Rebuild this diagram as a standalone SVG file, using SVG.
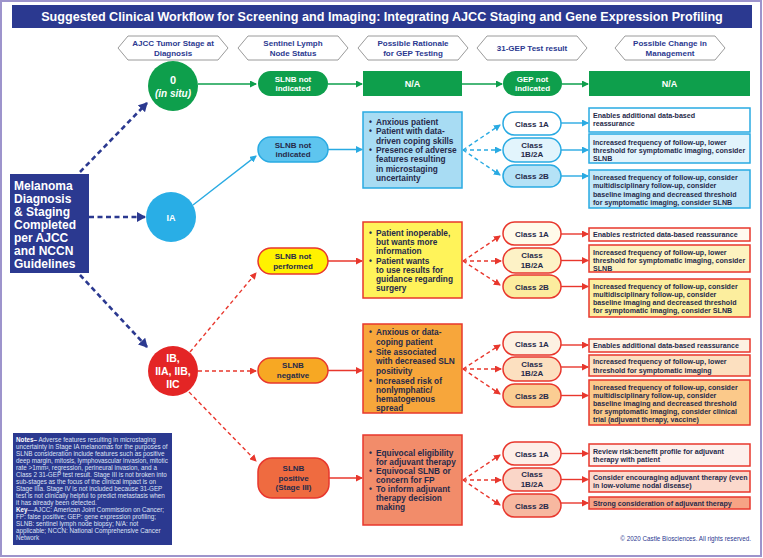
<svg xmlns="http://www.w3.org/2000/svg" width="763" height="558" viewBox="0 0 763 558">
<defs>
<style>
text{font-family:"Liberation Sans",Arial,sans-serif;font-weight:bold;}
.nb text{font-weight:normal;}
.nb tspan.b{font-weight:bold;fill:#fff;}
.hdr{fill:#fff;stroke:#9a9a9a;stroke-width:1;}
.ht{font-size:8px;fill:#2b3990;text-anchor:middle;}
.wt{fill:#fff;text-anchor:middle;}
.rt{font-size:8.3px;fill:#262a4a;}
.mt{font-size:7.1px;fill:#262a4a;}
.ct{font-size:8px;fill:#262a4a;text-anchor:middle;}
.g{fill:#0e9f4c;}
.bs{stroke:#29aae2;stroke-width:1.5;}
.rs{stroke:#e8372d;stroke-width:1.5;}
.ln-n{stroke:#2b3990;stroke-width:2.6;stroke-dasharray:5 3.5;fill:none;}
.ln-g{stroke:#0e9f4c;stroke-width:1.5;fill:none;}
.ln-b{stroke:#29aae2;stroke-width:1.4;fill:none;}
.ln-r{stroke:#e8372d;stroke-width:1.4;fill:none;}
.dash{stroke-dasharray:4 3;}
</style>
<marker id="an" markerUnits="userSpaceOnUse" markerWidth="10" markerHeight="10" refX="8" refY="5" orient="auto"><path d="M0,0 L9,5 L0,10 z" fill="#2b3990"/></marker>
<marker id="ag" markerUnits="userSpaceOnUse" markerWidth="7" markerHeight="7" refX="6" refY="3.5" orient="auto"><path d="M0,0 L7,3.5 L0,7 z" fill="#0e9f4c"/></marker>
<marker id="ab" markerUnits="userSpaceOnUse" markerWidth="7" markerHeight="7" refX="6" refY="3.5" orient="auto"><path d="M0,0 L7,3.5 L0,7 z" fill="#29aae2"/></marker>
<marker id="ar" markerUnits="userSpaceOnUse" markerWidth="7" markerHeight="7" refX="6" refY="3.5" orient="auto"><path d="M0,0 L7,3.5 L0,7 z" fill="#e8372d"/></marker>
</defs>
<rect x="0" y="0" width="763" height="558" fill="#fff"/>
<rect x="1" y="1" width="760" height="555" fill="none" stroke="#9d94cc" stroke-width="2"/>
<g id="title">
<rect x="12" y="5" width="740" height="23" fill="#2b3990"/>
<text x="382" y="21" font-size="12.6px" class="wt">Suggested Clinical Workflow for Screening and Imaging: Integrating AJCC Staging and Gene Expression Profiling</text>
</g>
<g id="headers">
<polygon class="hdr" points="118,48 128,36 218,36 228,48 218,60 128,60"/>
<text class="ht" x="173" y="46">AJCC Tumor Stage at</text><text class="ht" x="173" y="55.5">Diagnosis</text>
<polygon class="hdr" points="238,48 248,36 338,36 348,48 338,60 248,60"/>
<text class="ht" x="293" y="46">Sentinel Lymph</text><text class="ht" x="293" y="55.5">Node Status</text>
<polygon class="hdr" points="358,48 368,36 458,36 468,48 458,60 368,60"/>
<text class="ht" x="413" y="46">Possible Rationale</text><text class="ht" x="413" y="55.5">for GEP Testing</text>
<polygon class="hdr" points="477,48 487,36 577,36 587,48 577,60 487,60"/>
<text class="ht" x="532" y="51">31-GEP Test result</text>
<polygon class="hdr" points="615,48 625,36 715,36 725,48 715,60 625,60"/>
<text class="ht" x="670" y="46">Possible Change in</text><text class="ht" x="670" y="55.5">Management</text>
</g>
<g id="connectors">
<line class="ln-n" x1="80" y1="172" x2="147" y2="103" marker-end="url(#an)"/>
<line class="ln-n" x1="89" y1="217" x2="145" y2="217" marker-end="url(#an)"/>
<line class="ln-n" x1="80" y1="275" x2="147" y2="347" marker-end="url(#an)"/>
<line class="ln-g" x1="198" y1="84" x2="256" y2="84" marker-end="url(#ag)"/>
<line class="ln-g" x1="328" y1="84" x2="362" y2="84" marker-end="url(#ag)"/>
<line class="ln-g" x1="462" y1="84" x2="502" y2="84" marker-end="url(#ag)"/>
<line class="ln-g" x1="562" y1="84" x2="588" y2="84" marker-end="url(#ag)"/>
<line class="ln-b" x1="193" y1="205" x2="256" y2="156" marker-end="url(#ab)"/>
<line class="ln-b" x1="328" y1="149.5" x2="362" y2="149.5" marker-end="url(#ab)"/>
<line class="ln-b dash" x1="463" y1="150" x2="500" y2="125" marker-end="url(#ab)"/>
<line class="ln-b dash" x1="463" y1="150" x2="501" y2="150" marker-end="url(#ab)"/>
<line class="ln-b dash" x1="463" y1="150" x2="500" y2="175" marker-end="url(#ab)"/>
<line class="ln-b" x1="561" y1="123" x2="588" y2="123" marker-end="url(#ab)"/>
<line class="ln-b" x1="561" y1="150" x2="588" y2="150" marker-end="url(#ab)"/>
<line class="ln-b" x1="561" y1="176" x2="588" y2="176" marker-end="url(#ab)"/>
<line class="ln-r dash" x1="190" y1="352" x2="256" y2="273" marker-end="url(#ar)"/>
<line class="ln-r dash" x1="198" y1="371" x2="256" y2="371" marker-end="url(#ar)"/>
<line class="ln-r dash" x1="189" y1="392" x2="256" y2="461" marker-end="url(#ar)"/>
<line class="ln-r" x1="328" y1="261" x2="362" y2="261" marker-end="url(#ar)"/>
<line class="ln-r dash" x1="463" y1="261" x2="500" y2="236" marker-end="url(#ar)"/>
<line class="ln-r dash" x1="463" y1="261" x2="501" y2="261" marker-end="url(#ar)"/>
<line class="ln-r dash" x1="463" y1="261" x2="500" y2="285" marker-end="url(#ar)"/>
<line class="ln-r" x1="561" y1="234" x2="588" y2="234" marker-end="url(#ar)"/>
<line class="ln-r" x1="561" y1="260.5" x2="588" y2="260.5" marker-end="url(#ar)"/>
<line class="ln-r" x1="561" y1="286.5" x2="588" y2="286.5" marker-end="url(#ar)"/>
<line class="ln-r" x1="328" y1="370.5" x2="362" y2="370.5" marker-end="url(#ar)"/>
<line class="ln-r dash" x1="463" y1="369" x2="500" y2="345" marker-end="url(#ar)"/>
<line class="ln-r dash" x1="463" y1="369" x2="501" y2="369" marker-end="url(#ar)"/>
<line class="ln-r dash" x1="463" y1="369" x2="500" y2="394" marker-end="url(#ar)"/>
<line class="ln-r" x1="561" y1="345" x2="588" y2="345" marker-end="url(#ar)"/>
<line class="ln-r" x1="561" y1="367" x2="588" y2="367" marker-end="url(#ar)"/>
<line class="ln-r" x1="561" y1="395.5" x2="588" y2="395.5" marker-end="url(#ar)"/>
<line class="ln-r" x1="329" y1="478" x2="362" y2="478" marker-end="url(#ar)"/>
<line class="ln-r dash" x1="463" y1="480" x2="500" y2="455" marker-end="url(#ar)"/>
<line class="ln-r dash" x1="463" y1="480" x2="501" y2="480" marker-end="url(#ar)"/>
<line class="ln-r dash" x1="463" y1="480" x2="500" y2="505" marker-end="url(#ar)"/>
<line class="ln-r" x1="561" y1="453.5" x2="588" y2="453.5" marker-end="url(#ar)"/>
<line class="ln-r" x1="561" y1="479.5" x2="588" y2="479.5" marker-end="url(#ar)"/>
<line class="ln-r" x1="561" y1="503" x2="588" y2="503" marker-end="url(#ar)"/>
</g>
<g id="melanoma">
<rect x="10" y="174" width="79" height="99" fill="#2b3990"/>
<g font-size="12px" fill="#fff">
<text x="14" y="190">Melanoma</text><text x="14" y="203">Diagnosis</text><text x="14" y="216">&amp; Staging</text><text x="14" y="229">Completed</text><text x="14" y="242">per AJCC</text><text x="14" y="255">and NCCN</text><text x="14" y="268">Guidelines</text>
</g>
</g>
<g id="stage0">
<circle cx="173" cy="86" r="25" class="g"/>
<text class="wt" x="173" y="84" font-size="11px">0</text>
<text class="wt" x="173" y="97" font-size="10px" font-style="italic">(in situ)</text>
</g>
<g id="slnb0">
<rect x="258" y="71" width="70" height="25" rx="12.5" class="g"/>
<text class="wt" x="293" y="81.5" font-size="8px">SLNB not</text><text class="wt" x="293" y="91" font-size="8px">indicated</text>
</g>
<g id="na0">
<rect x="363" y="71" width="99" height="25" class="g"/>
<text class="wt" x="412.5" y="87" font-size="9px">N/A</text>
</g>
<g id="gep0">
<rect x="503" y="71" width="59" height="25" rx="12.5" class="g"/>
<text class="wt" x="532.5" y="81.5" font-size="8px">GEP not</text><text class="wt" x="532.5" y="91" font-size="8px">indicated</text>
</g>
<g id="mgmt0">
<rect x="589" y="71" width="161" height="25" class="g"/>
<text class="wt" x="669.5" y="87" font-size="9px">N/A</text>
</g>
<g id="stageIA">
<circle cx="171" cy="217" r="25" fill="#29aee6"/>
<text class="wt" x="171" y="220.5" font-size="9px">IA</text>
</g>
<g id="slnbIA">
<rect x="258" y="137" width="70" height="25" rx="12.5" fill="#5ec5ef" class="bs"/>
<text class="ct" x="293" y="147.5">SLNB not</text><text class="ct" x="293" y="157">indicated</text>
</g>
<g id="ratIA">
<rect x="363" y="112" width="99" height="76" fill="#a8dcf3" class="bs"/>
<g class="rt">
<text x="369" y="125">•</text><text x="376" y="125">Anxious patient</text>
<text x="369" y="134.3">•</text><text x="376" y="134.3">Patient with data-</text>
<text x="376" y="143.6">driven coping skills</text>
<text x="369" y="152.9">•</text><text x="376" y="152.9">Presence of adverse</text>
<text x="376" y="162.2">features resulting</text>
<text x="376" y="171.5">in microstaging</text>
<text x="376" y="180.8">uncertainty</text>
</g>
</g>
<g id="clsIA">
<rect x="503" y="112" width="58" height="23" rx="11.5" fill="#fff" class="bs"/>
<text class="ct" x="532" y="126.5">Class 1A</text>
<rect x="503" y="138" width="58" height="24" rx="12" fill="#e2f4fc" class="bs"/>
<text class="ct" x="532" y="147.5">Class</text><text class="ct" x="532" y="157">1B/2A</text>
<rect x="503" y="165" width="58" height="22" rx="11" fill="#b5e2f6" class="bs"/>
<text class="ct" x="532" y="179">Class 2B</text>
</g>
<g id="mgmtIA">
<rect x="589" y="108" width="161" height="24" fill="#fff" class="bs"/>
<text class="mt" x="593" y="117.5">Enables additional data-based</text><text class="mt" x="593" y="126">reassurance</text>
<rect x="589" y="134" width="161" height="29" fill="#e2f4fc" class="bs"/>
<text class="mt" x="593" y="144.5">Increased frequency of follow-up, lower</text><text class="mt" x="593" y="152.5">threshold for symptomatic imaging, consider</text><text class="mt" x="593" y="160.5">SLNB</text>
<rect x="589" y="170" width="161" height="38" fill="#c2e7f8" class="bs"/>
<text class="mt" x="593" y="180">Increased frequency of follow-up, consider</text><text class="mt" x="593" y="188.3">multidisciplinary follow-up, consider</text><text class="mt" x="593" y="196.6">baseline imaging and decreased threshold</text><text class="mt" x="593" y="204.9">for symptomatic imaging, consider SLNB</text>
</g>
<g id="stageIB">
<circle cx="173" cy="371" r="25" fill="#e42525"/>
<text class="wt" x="173" y="362" font-size="10.5px">IB,</text><text class="wt" x="173" y="375" font-size="10.5px">IIA, IIB,</text><text class="wt" x="173" y="388" font-size="10.5px">IIC</text>
</g>
<g id="slnbNP">
<rect x="258" y="248" width="70" height="26" rx="13" fill="#fff200" class="rs"/>
<text class="ct" x="293" y="258.5">SLNB not</text><text class="ct" x="293" y="268.5">performed</text>
</g>
<g id="ratNP">
<rect x="363" y="222" width="99" height="76" fill="#fff35a" class="rs"/>
<g class="rt">
<text x="369" y="236">•</text><text x="376" y="236">Patient inoperable,</text>
<text x="376" y="245">but wants more</text>
<text x="376" y="254">information</text>
<text x="369" y="264">•</text><text x="376" y="264">Patient wants</text>
<text x="376" y="273">to use results for</text>
<text x="376" y="282">guidance regarding</text>
<text x="376" y="291">surgery</text>
</g>
</g>
<g id="clsNP">
<rect x="503" y="222" width="58" height="23" rx="11.5" fill="#fffaea" class="rs"/>
<text class="ct" x="532" y="236.5">Class 1A</text>
<rect x="503" y="248" width="58" height="25" rx="12.5" fill="#fdf2c6" class="rs"/>
<text class="ct" x="532" y="258">Class</text><text class="ct" x="532" y="268">1B/2A</text>
<rect x="503" y="275" width="58" height="23" rx="11.5" fill="#fcec9e" class="rs"/>
<text class="ct" x="532" y="289.5">Class 2B</text>
</g>
<g id="mgmtNP">
<rect x="589" y="228" width="161" height="13" fill="#fffaf0" class="rs"/>
<text class="mt" x="593" y="237">Enables restricted data-based reassurance</text>
<rect x="589" y="245" width="161" height="27" fill="#fdf2c0" class="rs"/>
<text class="mt" x="593" y="254.5">Increased frequency of follow-up, lower</text><text class="mt" x="593" y="262.5">threshold for symptomatic imaging, consider</text><text class="mt" x="593" y="270.5">SLNB</text>
<rect x="589" y="279" width="161" height="38" fill="#fcee9e" class="rs"/>
<text class="mt" x="593" y="288.5">Increased frequency of follow-up, consider</text><text class="mt" x="593" y="296.8">multidisciplinary follow-up, consider</text><text class="mt" x="593" y="305.1">baseline imaging and decreased threshold</text><text class="mt" x="593" y="313.4">for symptomatic imaging, consider SLNB</text>
</g>
<g id="slnbNeg">
<rect x="258" y="358" width="70" height="25" rx="12.5" fill="#f7a823" class="rs"/>
<text class="ct" x="293" y="368">SLNB</text><text class="ct" x="293" y="378">negative</text>
</g>
<g id="ratNeg">
<rect x="363" y="324" width="99" height="89" fill="#f7a63b" class="rs"/>
<g class="rt">
<text x="369" y="335">•</text><text x="376" y="335">Anxious or data-</text>
<text x="376" y="345">coping patient</text>
<text x="369" y="355">•</text><text x="376" y="355">Site associated</text>
<text x="376" y="364">with decreased SLN</text>
<text x="376" y="374">positivity</text>
<text x="369" y="384">•</text><text x="376" y="384">Increased risk of</text>
<text x="376" y="393">nonlymphatic/</text>
<text x="376" y="402">hematogenous</text>
<text x="376" y="411">spread</text>
</g>
</g>
<g id="clsNeg">
<rect x="503" y="332" width="58" height="23" rx="11.5" fill="#fdf1e2" class="rs"/>
<text class="ct" x="532" y="346.5">Class 1A</text>
<rect x="503" y="357" width="58" height="24" rx="12" fill="#fce0c0" class="rs"/>
<text class="ct" x="532" y="366.5">Class</text><text class="ct" x="532" y="376">1B/2A</text>
<rect x="503" y="384" width="58" height="23" rx="11.5" fill="#fbcd93" class="rs"/>
<text class="ct" x="532" y="398.5">Class 2B</text>
</g>
<g id="mgmtNeg">
<rect x="589" y="339" width="161" height="13" fill="#fdf1e2" class="rs"/>
<text class="mt" x="593" y="348">Enables additional data-based reassurance</text>
<rect x="589" y="355" width="161" height="21" fill="#fce0c0" class="rs"/>
<text class="mt" x="593" y="364">Increased frequency of follow-up, lower</text><text class="mt" x="593" y="372.5">threshold for symptomatic imaging</text>
<rect x="589" y="380" width="161" height="45" fill="#fbc98a" class="rs"/>
<text class="mt" x="593" y="389.5">Increased frequency of follow-up, consider</text><text class="mt" x="593" y="397.6">multidisciplinary follow-up, consider</text><text class="mt" x="593" y="405.7">baseline imaging and decreased threshold</text><text class="mt" x="593" y="413.8">for symptomatic imaging, consider clinical</text><text class="mt" x="593" y="421.9">trial (adjuvant therapy, vaccine)</text>
</g>
<g id="slnbPos">
<rect x="258" y="458" width="71" height="40" rx="14" fill="#ef6b40" class="rs"/>
<text class="ct" x="293.5" y="471">SLNB</text><text class="ct" x="293.5" y="480.5">positive</text><text class="ct" x="293.5" y="490">(Stage III)</text>
</g>
<g id="ratPos">
<rect x="363" y="435" width="99" height="90" fill="#f28c6a" class="rs"/>
<g class="rt">
<text x="369" y="456">•</text><text x="376" y="456">Equivocal eligibility</text>
<text x="376" y="465">for adjuvant therapy</text>
<text x="369" y="474">•</text><text x="376" y="474">Equivocal SLNB or</text>
<text x="376" y="483">concern for FP</text>
<text x="369" y="492">•</text><text x="376" y="492">To inform adjuvant</text>
<text x="376" y="501">therapy decision</text>
<text x="376" y="510">making</text>
</g>
</g>
<g id="clsPos">
<rect x="503" y="442" width="58" height="23" rx="11.5" fill="#fdeee8" class="rs"/>
<text class="ct" x="532" y="456.5">Class 1A</text>
<rect x="503" y="468" width="58" height="23" rx="11.5" fill="#fad6c8" class="rs"/>
<text class="ct" x="532" y="477">Class</text><text class="ct" x="532" y="486.5">1B/2A</text>
<rect x="503" y="494" width="58" height="23" rx="11.5" fill="#f7b8a0" class="rs"/>
<text class="ct" x="532" y="508.5">Class 2B</text>
</g>
<g id="mgmtPos">
<rect x="589" y="444" width="161" height="22" fill="#fdf0ec" class="rs"/>
<text class="mt" x="593" y="453.5">Review risk:benefit profile for adjuvant</text><text class="mt" x="593" y="462">therapy with patient</text>
<rect x="589" y="471" width="161" height="21" fill="#fbd9cc" class="rs"/>
<text class="mt" x="593" y="479.5">Consider encouraging adjuvant therapy (even</text><text class="mt" x="593" y="488">in low-volume nodal disease)</text>
<rect x="589" y="497" width="161" height="12" fill="#f6a385" class="rs"/>
<text class="mt" x="593" y="505.5">Strong consideration of adjuvant therapy</text>
</g>
<g id="notes" class="nb">
<rect x="13" y="433" width="159" height="112" fill="#2b3990"/>
<g font-size="6.3px" fill="#dfe3f5">
<text x="16" y="442"><tspan class="b">Notes–</tspan> Adverse features resulting in microstaging</text>
<text x="16" y="449">uncertainty in Stage IA melanomas for the purposes of</text>
<text x="16" y="456">SLNB consideration include features such as positive</text>
<text x="16" y="463">deep margin, mitosis, lymphovascular invasion, mitotic</text>
<text x="16" y="470">rate &gt;1mm², regression, perineural invasion, and a</text>
<text x="16" y="477">Class 2 31-GEP test result. Stage III is not broken into</text>
<text x="16" y="484">sub-stages as the focus of the clinical impact is on</text>
<text x="16" y="491">Stage IIIa. Stage IV is not included because 31-GEP</text>
<text x="16" y="498">test is not clinically helpful to predict metastasis when</text>
<text x="16" y="505">it has already been detected.</text>
<text x="16" y="512"><tspan class="b">Key</tspan>—AJCC: American Joint Commission on Cancer;</text>
<text x="16" y="519">FP: false positive; GEP: gene expression profiling;</text>
<text x="16" y="526">SLNB: sentinel lymph node biopsy; N/A: not</text>
<text x="16" y="533">applicable; NCCN: National Comprehensive Cancer</text>
<text x="16" y="540">Network</text>
</g>
</g>
<text x="751" y="541" font-size="6.3px" fill="#2b3990" text-anchor="end" style="font-weight:normal">© 2020 Castle Biosciences. All rights reserved.</text>
</svg>
